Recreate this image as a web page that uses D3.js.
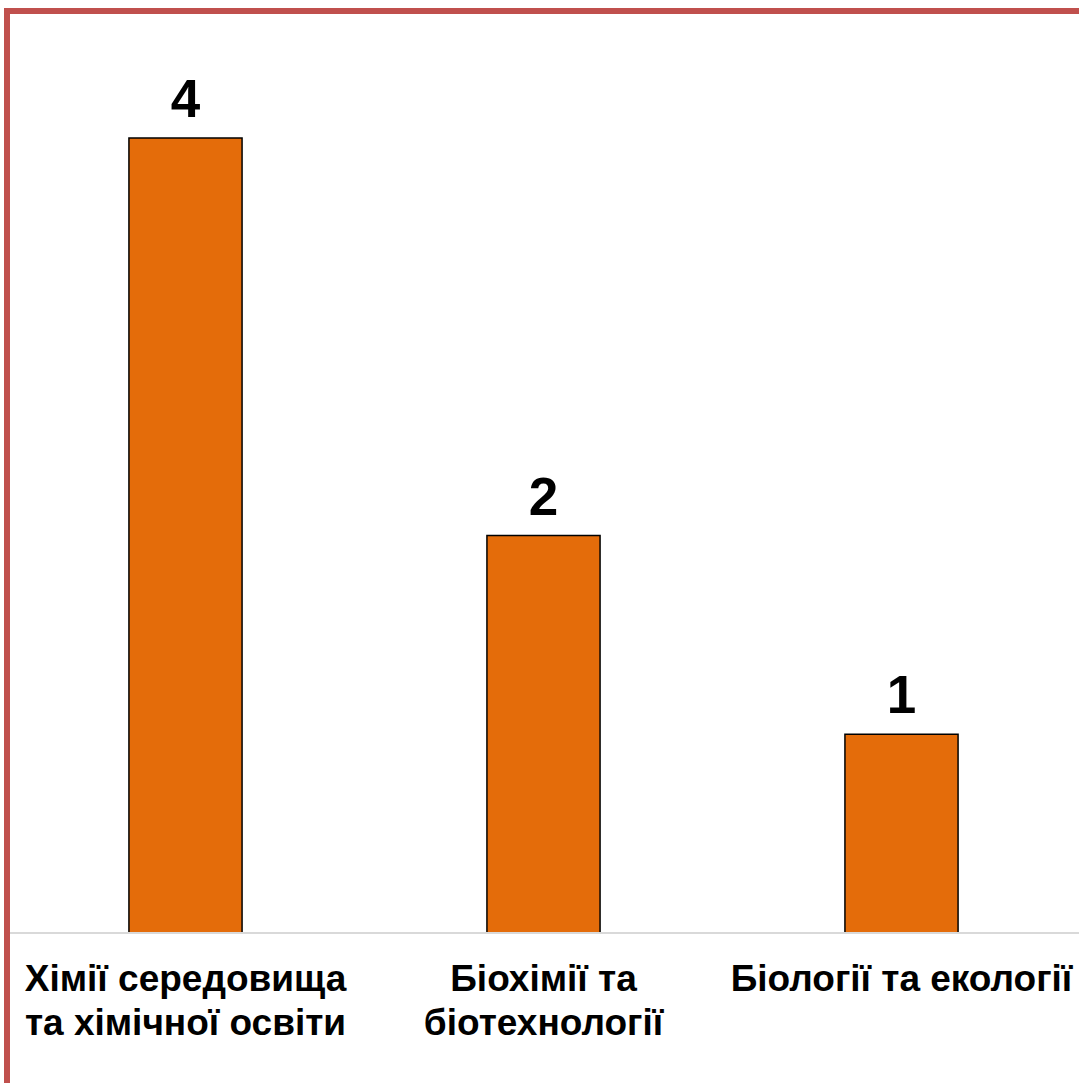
<!DOCTYPE html>
<html>
<head>
<meta charset="utf-8">
<script src="https://cdn.jsdelivr.net/npm/d3@7"></script>
<style>
  html, body { margin: 0; padding: 0; background: #fff; overflow: hidden; }
  svg { display: block; }
</style>
</head>
<body>
<svg id="chart" width="1079" height="1083"></svg>
<script>
const categories = ["Хімії середовища та хімічної освіти", "Біохімії та біотехнології", "Біології та екології"];
const categoryLines = [["Хімії середовища", "та хімічної освіти"], ["Біохімії та", "біотехнології"], ["Біології та екології"]];
const values = [4, 2, 1];

const W = 1079, H = 1083;
const svg = d3.select("#chart");

// frame border
svg.append("rect")
  .attr("x", 7).attr("y", 11)
  .attr("width", W + 20).attr("height", H + 20)
  .attr("fill", "#fff")
  .attr("stroke", "#C0504D")
  .attr("stroke-width", 6);

const baseY = 933;
const x = d3.scaleBand().domain(categories).range([6.5, 1080.5]).paddingInner(0.684).paddingOuter(0.342);
const y = d3.scaleLinear().domain([0, 4]).range([baseY, 138]);

// bars
svg.selectAll("rect.bar").data(values).enter().append("rect")
  .attr("class", "bar")
  .attr("x", (d, i) => x(categories[i]))
  .attr("y", d => y(d))
  .attr("width", x.bandwidth())
  .attr("height", d => baseY - y(d))
  .attr("fill", "#E46C0A")
  .attr("stroke", "#000")
  .attr("stroke-width", 1.5);

// baseline axis
const axis = d3.axisBottom(x).tickSize(0).tickFormat("");
const ag = svg.append("g").attr("transform", `translate(0,${baseY})`).call(axis);
ag.select(".domain").attr("d", `M10,0H${W}`).attr("stroke", "#D9D9D9").attr("stroke-width", 2);

// value labels
svg.selectAll("text.val").data(values).enter().append("text")
  .attr("class", "val")
  .attr("x", (d, i) => x(categories[i]) + x.bandwidth() / 2)
  .attr("y", d => y(d) - 21)
  .attr("text-anchor", "middle")
  .attr("font-family", "'Liberation Sans', Arial, sans-serif")
  .attr("font-weight", "bold")
  .attr("font-size", 53)
  .attr("fill", "#000")
  .text(d => d);

// category labels
categories.forEach((c, i) => {
  const t = svg.append("text")
    .attr("x", x(c) + x.bandwidth() / 2)
    .attr("y", 991)
    .attr("text-anchor", "middle")
    .attr("font-family", "'Liberation Sans', Arial, sans-serif")
    .attr("font-weight", "bold")
    .attr("font-size", 37)
    .attr("fill", "#000");
  categoryLines[i].forEach((ln, j) => {
    t.append("tspan")
      .attr("x", x(c) + x.bandwidth() / 2)
      .attr("dy", j === 0 ? 0 : 44)
      .text(ln);
  });
});
</script>
</body>
</html>
